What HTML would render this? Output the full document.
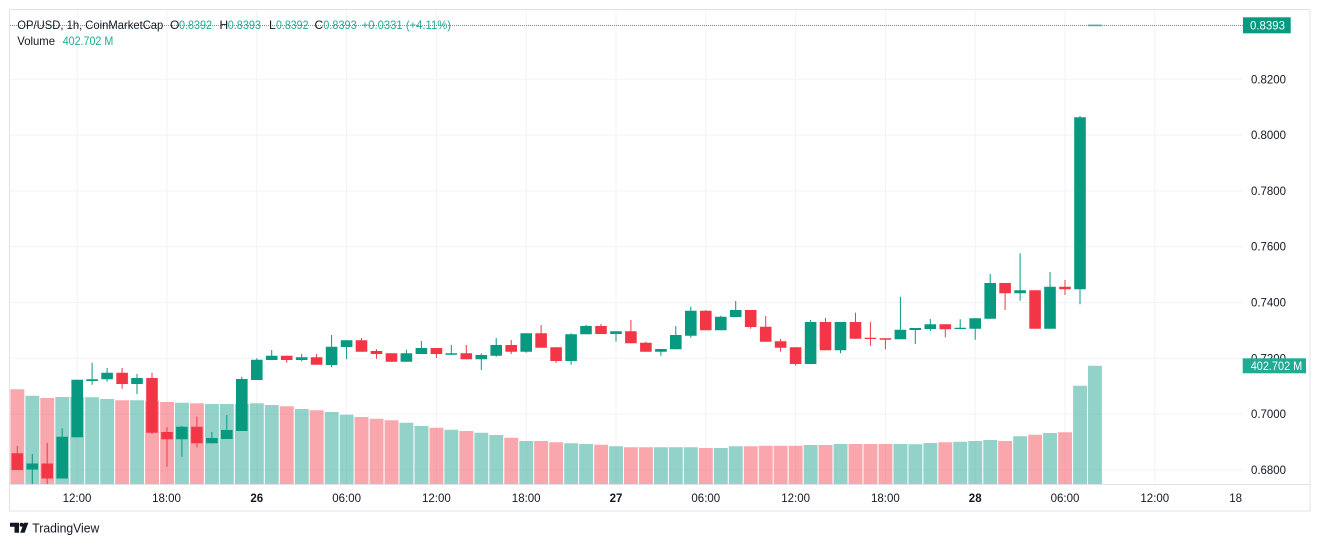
<!DOCTYPE html>
<html><head><meta charset="utf-8"><style>
html,body{margin:0;padding:0;background:#fff;}
svg{display:block;font-family:"Liberation Sans",sans-serif;}
</style></head><body>
<svg width="1320" height="545" viewBox="0 0 1320 545" xmlns="http://www.w3.org/2000/svg">
<rect width="1320" height="545" fill="#fff"/>
<rect x="9.5" y="9.5" width="1300.5" height="501.5" fill="none" stroke="#e0e3eb"/>
<defs><clipPath id="p"><rect x="10" y="10" width="1233" height="474"/></clipPath></defs>
<path stroke="#f0f3fa" fill="none" d="M10 79.3H1243M10 135.1H1243M10 190.9H1243M10 246.7H1243M10 302.5H1243M10 358.3H1243M10 414.1H1243M10 469.9H1243M77.2 10V484M167 10V484M256.8 10V484M346.6 10V484M436.4 10V484M526.2 10V484M616 10V484M705.8 10V484M795.6 10V484M885.4 10V484M975.2 10V484M1065 10V484M1154.8 10V484"/>
<line x1="10" y1="484.5" x2="1310" y2="484.5" stroke="#e0e3eb"/>
<g clip-path="url(#p)">
<path fill="rgba(8,153,129,0.44)" d="M25.4 484V395.7h13.9V484ZM55.3 484V397h13.9V484ZM70.3 484V397h13.9V484ZM85.2 484V397.3h13.9V484ZM100.2 484V399h13.9V484ZM130.1 484V400.3h13.9V484ZM175 484V402.7h13.9V484ZM205 484V404h13.9V484ZM219.9 484V404h13.9V484ZM234.9 484V404h13.9V484ZM249.9 484V403.3h13.9V484ZM264.8 484V405h13.9V484ZM294.8 484V409h13.9V484ZM324.7 484V412h13.9V484ZM339.7 484V414.7h13.9V484ZM399.5 484V422.7h13.9V484ZM414.5 484V426h13.9V484ZM444.4 484V429.7h13.9V484ZM474.4 484V432.7h13.9V484ZM489.3 484V435h13.9V484ZM519.3 484V441h13.9V484ZM564.2 484V443.3h13.9V484ZM579.1 484V444h13.9V484ZM609.1 484V446.3h13.9V484ZM654 484V447.3h13.9V484ZM668.9 484V447.3h13.9V484ZM683.9 484V447.3h13.9V484ZM713.9 484V448h13.9V484ZM728.8 484V446.3h13.9V484ZM803.7 484V445h13.9V484ZM833.6 484V444h13.9V484ZM893.5 484V444h13.9V484ZM908.4 484V444.3h13.9V484ZM923.4 484V443h13.9V484ZM953.3 484V441.7h13.9V484ZM968.3 484V441h13.9V484ZM983.3 484V440h13.9V484ZM1013.2 484V436.3h13.9V484ZM1043.1 484V433h13.9V484ZM1073.1 484V385.7h13.9V484ZM1088 484V365.7h13.9V484Z"/>
<path fill="rgba(242,54,69,0.44)" d="M10.4 484V389.3h13.9V484ZM40.3 484V398h13.9V484ZM115.2 484V400.3h13.9V484ZM145.1 484V401.3h13.9V484ZM160.1 484V402h13.9V484ZM190 484V403.3h13.9V484ZM279.8 484V406.3h13.9V484ZM309.7 484V410.3h13.9V484ZM354.6 484V417h13.9V484ZM369.6 484V418.7h13.9V484ZM384.6 484V420.3h13.9V484ZM429.5 484V427.7h13.9V484ZM459.4 484V431h13.9V484ZM504.3 484V437.7h13.9V484ZM534.2 484V441h13.9V484ZM549.2 484V442.3h13.9V484ZM594.1 484V444.7h13.9V484ZM624 484V447.3h13.9V484ZM639 484V447.3h13.9V484ZM698.9 484V448h13.9V484ZM743.8 484V446.3h13.9V484ZM758.8 484V445.7h13.9V484ZM773.7 484V445.7h13.9V484ZM788.7 484V445.7h13.9V484ZM818.6 484V445h13.9V484ZM848.6 484V444h13.9V484ZM863.5 484V444h13.9V484ZM878.5 484V444h13.9V484ZM938.4 484V442.3h13.9V484ZM998.2 484V441h13.9V484ZM1028.2 484V434.7h13.9V484ZM1058.1 484V432.3h13.9V484Z"/>
<line x1="10" y1="25.5" x2="1243" y2="25.5" stroke="#089981" stroke-dasharray="1 1" opacity="0.8"/>
<path stroke="#089981" fill="none" d="M32.3 454V484M62.2 428.3V478.5M77.2 379.7V437.3M92.1 362.7V384.7M107.1 368V381.7M137 374V394M181.9 426V456.7M211.9 432V443.3M226.8 415V439M241.8 376.7V431M256.8 358.3V380M271.7 350V360M301.7 354V361.3M331.6 335V367.3M346.6 340.3V359.3M406.4 349.7V361.7M421.4 341V354M451.3 345V354.7M481.3 353.3V370M496.2 338V356.7M526.2 333.3V352.7M571.1 333.3V364.7M586 324.7V334.3M616 331.3V341.7M660.9 349V355.7M675.8 326V349.3M690.8 306.7V337.7M720.8 315.7V330.3M735.7 301V317M810.6 320V364M840.5 322V353.3M900.4 296.7V339.3M915.3 328V344M930.3 319V331M960.2 319.3V329M975.2 318.3V339.7M990.2 274V318.7M1020.1 253.3V300.7M1050 272V328.7M1080 116V304.3"/>
<path stroke="#f23645" fill="none" d="M17.3 446V470M47.2 443V484M122.1 368V388.7M152 372.7V434M167 427.3V466.7M196.9 416.7V447.3M286.7 355.7V362.7M316.6 354V364.7M361.5 338V351.7M376.5 349.3V358.7M391.5 353.3V361.7M436.4 348V358M466.3 345V359.3M511.2 340V354M541.1 325V347.7M556.1 347.3V362.7M601 324V334M630.9 320V343.3M645.9 341.7V351.7M705.8 310V330.3M750.7 310V328.7M765.7 316V341.7M780.6 339V351.7M795.6 347.3V365.7M825.5 318V350.3M855.5 312.7V338.7M870.4 322V345.7M885.4 338.3V349.3M945.3 324.3V337.3M1005.1 283V310M1035.1 290.3V328.7M1065 280V295"/>
<path fill="#089981" d="M26.5 463.5h11.6V469.5H26.5ZM56.4 436.7h11.6V478.5H56.4ZM71.4 379.7h11.6V437.3H71.4ZM86.3 379.3h11.6V381H86.3ZM101.3 372.7h11.6V379.3H101.3ZM131.2 378h11.6V384H131.2ZM176.1 426.7h11.6V439.3H176.1ZM206.1 438h11.6V443.3H206.1ZM221 430h11.6V439H221ZM236 379h11.6V431H236ZM251 359.7h11.6V380H251ZM265.9 355.7h11.6V360H265.9ZM295.9 357.3h11.6V360H295.9ZM325.8 346.7h11.6V365H325.8ZM340.8 340.3h11.6V347H340.8ZM400.6 353.3h11.6V361.7H400.6ZM415.6 348h11.6V354H415.6ZM445.5 353.3h11.6V354.7H445.5ZM475.5 355h11.6V359.3H475.5ZM490.4 345h11.6V355.7H490.4ZM520.4 333.3h11.6V351.7H520.4ZM565.3 334.3h11.6V361H565.3ZM580.2 326h11.6V334.3H580.2ZM610.2 331.3h11.6V334H610.2ZM655.1 349h11.6V351.7H655.1ZM670 335h11.6V349.3H670ZM685 310.7h11.6V335.7H685ZM715 316.7h11.6V330.3H715ZM729.9 310h11.6V317H729.9ZM804.8 322h11.6V364H804.8ZM834.7 322h11.6V350.3H834.7ZM894.6 329.7h11.6V339.3H894.6ZM909.5 328h11.6V330H909.5ZM924.5 324.3h11.6V329H924.5ZM954.4 327.7h11.6V329H954.4ZM969.4 318.3h11.6V328.7H969.4ZM984.4 283h11.6V318.7H984.4ZM1014.3 290.3h11.6V293.3H1014.3ZM1044.2 286.7h11.6V328.7H1044.2ZM1074.2 117.3h11.6V289.3H1074.2Z"/>
<path fill="#3fb09b" d="M1088 24.6h13.7v1.6H1088Z"/>
<path fill="#f23645" d="M11.5 453.3h11.6V470H11.5ZM41.4 463.5h11.6V478.5H41.4ZM116.3 372.7h11.6V384H116.3ZM146.2 378h11.6V432.7H146.2ZM161.2 432h11.6V439.3H161.2ZM191.1 426.7h11.6V443.3H191.1ZM280.9 355.7h11.6V360H280.9ZM310.8 357.3h11.6V364.7H310.8ZM355.7 340.3h11.6V351.7H355.7ZM370.7 351h11.6V354H370.7ZM385.7 353.3h11.6V361.7H385.7ZM430.6 348h11.6V354H430.6ZM460.5 353.3h11.6V359.3H460.5ZM505.4 345h11.6V351.7H505.4ZM535.3 333.3h11.6V347.7H535.3ZM550.3 347.3h11.6V361H550.3ZM595.2 326h11.6V334H595.2ZM625.1 331.3h11.6V343.3H625.1ZM640.1 342.7h11.6V351.7H640.1ZM700 310.7h11.6V330.3H700ZM744.9 310h11.6V327H744.9ZM759.9 326.7h11.6V341.7H759.9ZM774.8 341.3h11.6V347.7H774.8ZM789.8 347.3h11.6V364H789.8ZM819.7 322h11.6V350.3H819.7ZM849.7 322h11.6V338.7H849.7ZM864.6 337.7h11.6V339H864.6ZM879.6 338.3h11.6V339.7H879.6ZM939.5 324.3h11.6V329.3H939.5ZM999.3 283h11.6V293.3H999.3ZM1029.3 290.3h11.6V328.7H1029.3ZM1059.2 286.7h11.6V289.3H1059.2Z"/>
</g>
<g fill="#131722" font-size="11.5">
<text x="1251" y="83.3" textLength="35" lengthAdjust="spacingAndGlyphs">0.8200</text>
<text x="1251" y="139.1" textLength="35" lengthAdjust="spacingAndGlyphs">0.8000</text>
<text x="1251" y="194.9" textLength="35" lengthAdjust="spacingAndGlyphs">0.7800</text>
<text x="1251" y="250.7" textLength="35" lengthAdjust="spacingAndGlyphs">0.7600</text>
<text x="1251" y="306.5" textLength="35" lengthAdjust="spacingAndGlyphs">0.7400</text>
<text x="1251" y="362.3" textLength="35" lengthAdjust="spacingAndGlyphs">0.7200</text>
<text x="1251" y="418.1" textLength="35" lengthAdjust="spacingAndGlyphs">0.7000</text>
<text x="1251" y="473.9" textLength="35" lengthAdjust="spacingAndGlyphs">0.6800</text>
</g>
<rect x="1243" y="17.3" width="47.7" height="16" fill="#089981"/>
<text x="1250" y="29.5" fill="#fff" font-size="11.5" textLength="35" lengthAdjust="spacingAndGlyphs">0.8393</text>
<rect x="1242.7" y="358.3" width="63.3" height="15" fill="#22ab94"/>
<text x="1250.7" y="370" fill="#fff" font-size="11.5" textLength="51.6" lengthAdjust="spacingAndGlyphs">402.702 M</text>
<g fill="#131722" font-size="11.5" text-anchor="middle">
<text x="77" y="502">12:00</text>
<text x="166.5" y="502">18:00</text>
<text x="256.8" y="502" font-weight="bold">26</text>
<text x="346.6" y="502">06:00</text>
<text x="436.4" y="502">12:00</text>
<text x="526.2" y="502">18:00</text>
<text x="616" y="502" font-weight="bold">27</text>
<text x="705.8" y="502">06:00</text>
<text x="795.6" y="502">12:00</text>
<text x="885.4" y="502">18:00</text>
<text x="975.2" y="502" font-weight="bold">28</text>
<text x="1065" y="502">06:00</text>
<text x="1154.8" y="502">12:00</text>
<text x="1242" y="502" text-anchor="end">18</text>
</g>
<g font-size="12">
<text x="17.3" y="29" fill="#131722" textLength="146" lengthAdjust="spacingAndGlyphs">OP/USD, 1h, CoinMarketCap</text>
<text x="170" y="29" fill="#131722">O</text>
<text x="179" y="29" fill="#22ab94" textLength="33" lengthAdjust="spacingAndGlyphs">0.8392</text>
<text x="219.5" y="29" fill="#131722">H</text>
<text x="227.7" y="29" fill="#22ab94" textLength="33.3" lengthAdjust="spacingAndGlyphs">0.8393</text>
<text x="269" y="29" fill="#131722">L</text>
<text x="276" y="29" fill="#22ab94" textLength="32.5" lengthAdjust="spacingAndGlyphs">0.8392</text>
<text x="314.5" y="29" fill="#131722">C</text>
<text x="323.3" y="29" fill="#22ab94" textLength="33.4" lengthAdjust="spacingAndGlyphs">0.8393</text>
<text x="361.7" y="29" fill="#22ab94" textLength="89.3" lengthAdjust="spacingAndGlyphs">+0.0331 (+4.11%)</text>
<text x="17.3" y="45" fill="#131722" textLength="37.7" lengthAdjust="spacingAndGlyphs">Volume</text>
<text x="62.7" y="45" fill="#22ab94" textLength="50.6" lengthAdjust="spacingAndGlyphs">402.702 M</text>
</g>
<path fill="#131722" d="M10 522.7h9v4h-9ZM14.5 522.7h4.5v10h-4.5ZM24 522.7h4.4l-3.8 10h-4.4Z"/>
<circle cx="21.6" cy="524.8" r="2" fill="#131722"/>
<text x="32.3" y="532.7" fill="#131722" font-size="13" textLength="67" lengthAdjust="spacingAndGlyphs">TradingView</text>
</svg>
</body></html>
